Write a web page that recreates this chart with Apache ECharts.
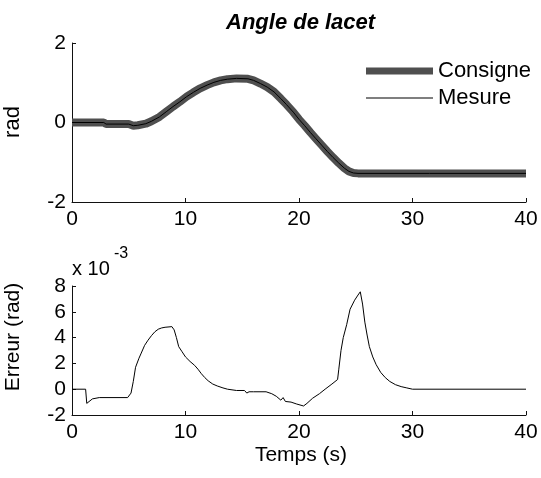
<!DOCTYPE html>
<html>
<head>
<meta charset="utf-8">
<script src="https://cdn.jsdelivr.net/npm/echarts@6/dist/echarts.min.js"></script>
<style>
html,body{margin:0;padding:0;background:#fff;}
#chart{width:541px;height:478px;}
</style>
</head>
<body>
<div id="chart"></div>
<script>
// ---- data ----
var xTicks = [0, 10, 20, 30, 40];
var yTicksTop = [-2, 0, 2];
var yTicksBottom = [-2, 0, 2, 4, 6, 8];

var timeTop = [0, 2.8, 3.0, 5.0, 5.4, 5.8, 6.5, 7.0, 7.7, 8.3, 8.9, 9.5, 10.1, 10.7, 11.3, 11.9, 12.5, 13.1, 13.7, 14.5, 15.5, 16.0, 16.6, 17.2, 17.8, 18.4, 18.9, 19.5, 20.0, 20.5, 21.0, 21.5, 22.0, 22.5, 23.0, 23.5, 24.0, 24.4, 24.8, 25.2, 31.5, 40];
var consigne = [0, 0, -0.04, -0.04, -0.08, -0.07, -0.03, 0.03, 0.14, 0.27, 0.4, 0.52, 0.65, 0.76, 0.86, 0.94, 1.01, 1.06, 1.09, 1.11, 1.10, 1.06, 0.98, 0.89, 0.77, 0.60, 0.45, 0.26, 0.08, -0.08, -0.25, -0.41, -0.57, -0.73, -0.88, -1.02, -1.15, -1.23, -1.27, -1.28, -1.28, -1.28];
var mesure = [0, 0, -0.04, -0.04, -0.08, -0.07, -0.03, 0.03, 0.14, 0.27, 0.40, 0.52, 0.65, 0.76, 0.86, 0.94, 1.01, 1.06, 1.09, 1.11, 1.10, 1.06, 0.98, 0.89, 0.77, 0.60, 0.45, 0.26, 0.08, -0.08, -0.25, -0.41, -0.57, -0.73, -0.88, -1.02, -1.15, -1.23, -1.27, -1.28, -1.28, -1.28];

var timeErr = [0, 1.2, 1.3, 1.8, 2.4, 4.9, 5.2, 5.4, 5.6, 5.9, 6.1, 6.4, 6.7, 7.0, 7.3, 7.6, 7.9, 8.2, 8.8, 9.0, 9.2, 9.4, 9.7, 10.0, 10.4, 10.8, 11.1, 11.4, 11.7, 12.0, 12.4, 12.8, 13.3, 13.7, 14.5, 15.2, 15.4, 15.6, 16.0, 17.1, 17.6, 18.0, 18.4, 18.6, 18.8, 19.3, 19.8, 20.4, 20.7, 21.2, 21.8, 22.3, 22.9, 23.4, 23.5, 23.7, 23.9, 24.2, 24.5, 24.9, 25.2, 25.4, 25.6, 25.8, 26.0, 26.2, 26.5, 26.8, 27.2, 27.6, 28.0, 28.5, 29.0, 29.5, 30.0, 40];
// error in units of 1e-3 rad
var erreurE3 = [0, 0, -1.1, -0.75, -0.65, -0.65, -0.3, 0.6, 1.7, 2.4, 2.8, 3.4, 3.8, 4.15, 4.45, 4.65, 4.75, 4.8, 4.85, 4.6, 4.0, 3.3, 2.9, 2.5, 2.15, 1.85, 1.55, 1.2, 0.9, 0.65, 0.4, 0.25, 0.1, 0.0, -0.1, -0.1, -0.3, -0.2, -0.2, -0.2, -0.35, -0.55, -0.85, -0.65, -0.95, -1.0, -1.15, -1.3, -1.1, -0.7, -0.35, 0.0, 0.4, 0.75, 1.5, 3.0, 4.0, 5.0, 6.2, 6.9, 7.3, 7.55, 6.6, 5.2, 4.2, 3.3, 2.5, 1.9, 1.3, 0.9, 0.6, 0.35, 0.2, 0.1, 0.0, 0.0];

function zip(a, b) { return a.map(function (v, i) { return [v, b[i]]; }); }

var FONT = 'Liberation Sans';
var axisCommon = {
  axisLine: { show: true, onZero: false, lineStyle: { color: '#111', width: 1 } },
  axisTick: { show: true, inside: true, length: 4, lineStyle: { color: '#111' } },
  splitLine: { show: false },
  axisLabel: { color: '#000', fontFamily: FONT, fontSize: 21 }
};
function xAx(gi) {
  return Object.assign({}, axisCommon, {
    type: 'value', gridIndex: gi, min: xTicks[0], max: xTicks[xTicks.length - 1], interval: 10,
    axisLabel: Object.assign({}, axisCommon.axisLabel, { margin: 7 })
  });
}
function yAx(gi, ticks) {
  return Object.assign({}, axisCommon, {
    type: 'value', gridIndex: gi, min: ticks[0], max: ticks[ticks.length - 1], interval: ticks[1] - ticks[0],
    axisLabel: Object.assign({}, axisCommon.axisLabel, { margin: 6 })
  });
}

var chart = echarts.init(document.getElementById('chart'), null, { renderer: 'canvas' });
chart.setOption({
  backgroundColor: '#fff',
  animation: false,
  title: {
    text: 'Angle de lacet', left: 221, top: 7,
    textStyle: { fontFamily: FONT, fontSize: 22, fontWeight: 'bold', fontStyle: 'italic', color: '#000' }
  },
  legend: [
    { data: ['Consigne'], left: 361, top: 55, icon: 'rect', itemWidth: 67, itemHeight: 7, itemGap: 10,
      textStyle: { fontFamily: FONT, fontSize: 22, color: '#000', padding: [0, 0, 0, 0] } },
    { data: ['Mesure'], left: 361, top: 82, icon: 'rect', itemWidth: 67, itemHeight: 1, itemGap: 10,
      textStyle: { fontFamily: FONT, fontSize: 22, color: '#000', padding: [0, 0, 0, 0] } }
  ],
  grid: [
    { left: 72, top: 43, width: 454, height: 159 },
    { left: 72, top: 286, width: 454, height: 129 }
  ],
  xAxis: [xAx(0), xAx(1)],
  yAxis: [yAx(0, yTicksTop), yAx(1, yTicksBottom)],
  series: [
    { name: 'Consigne', type: 'line', xAxisIndex: 0, yAxisIndex: 0, data: zip(timeTop, consigne),
      showSymbol: false, smooth: false, lineStyle: { color: '#4f4f4f', width: 8 }, itemStyle: { color: '#4f4f4f' } },
    { name: 'Mesure', type: 'line', xAxisIndex: 0, yAxisIndex: 0, data: zip(timeTop, mesure),
      showSymbol: false, lineStyle: { color: '#000', width: 1 }, itemStyle: { color: '#000' } },
    { name: 'Erreur', type: 'line', xAxisIndex: 1, yAxisIndex: 1, data: zip(timeErr, erreurE3),
      showSymbol: false, lineStyle: { color: '#000', width: 1 }, itemStyle: { color: '#000' } }
  ],
  graphic: [
    { type: 'text', x: 13, y: 122, rotation: Math.PI / 2,
      style: { text: 'rad', fontFamily: FONT, fontSize: 22, fill: '#000', textAlign: 'center', textVerticalAlign: 'middle' } },
    { type: 'text', x: 13, y: 337, rotation: Math.PI / 2,
      style: { text: 'Erreur (rad)', fontFamily: FONT, fontSize: 21, fill: '#000', textAlign: 'center', textVerticalAlign: 'middle' } },
    { type: 'text', x: 301, y: 455,
      style: { text: 'Temps (s)', fontFamily: FONT, fontSize: 21, fill: '#000', textAlign: 'center', textVerticalAlign: 'middle' } },
    { type: 'text', x: 72, y: 269,
      style: { text: 'x 10', fontFamily: FONT, fontSize: 20, fill: '#000', textAlign: 'left', textVerticalAlign: 'middle' } },
    { type: 'text', x: 114, y: 254,
      style: { text: '-3', fontFamily: FONT, fontSize: 16, fill: '#000', textAlign: 'left', textVerticalAlign: 'middle' } }
  ]
});
</script>
</body>
</html>
